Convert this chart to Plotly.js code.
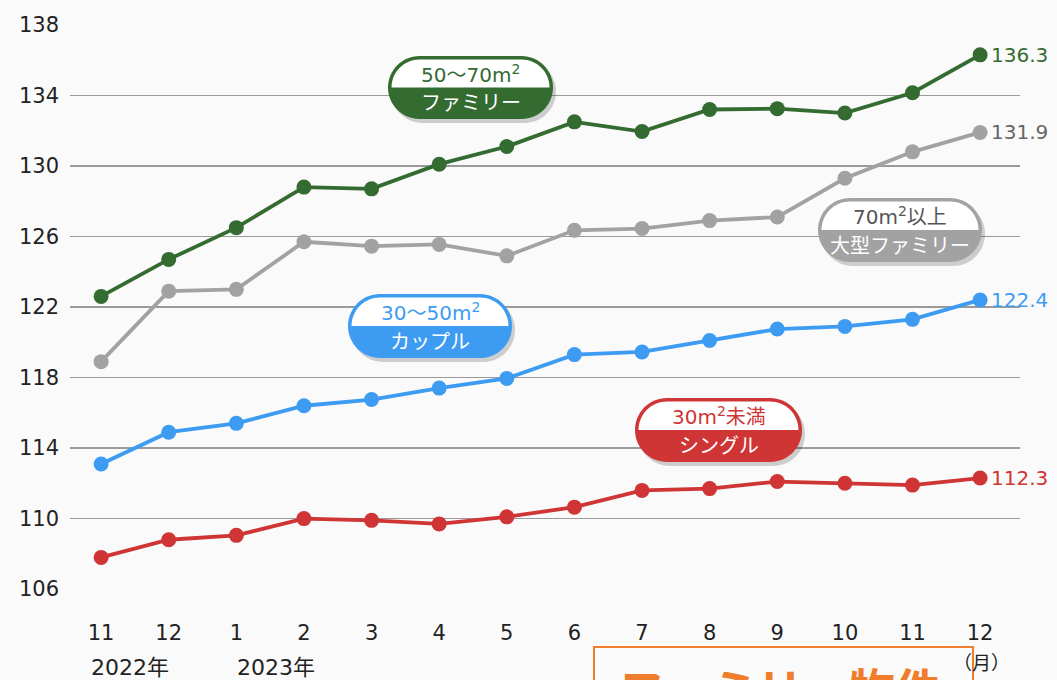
<!DOCTYPE html>
<html><head><meta charset="utf-8">
<script src="https://cdn.plot.ly/plotly-3.0.1.min.js"></script>
<style>html,body{margin:0;padding:0;background:#fafafa;}#chart{width:1057px;height:680px;}</style>
</head><body><div id="chart"></div>
<script>
// ---- data ----
const months = ["11","12","1","2","3","4","5","6","7","8","9","10","11","12"];
const family50to70 = [122.6,124.7,126.5,128.8,128.7,130.1,131.1,132.5,131.95,133.2,133.25,133.0,134.15,136.3];
const large70plus  = [118.9,122.9,123.0,125.7,125.45,125.55,124.9,126.35,126.45,126.9,127.1,129.3,130.8,131.9];
const couple30to50 = [113.1,114.9,115.4,116.4,116.75,117.4,117.95,119.3,119.45,120.1,120.75,120.9,121.3,122.4];
const single30less = [107.8,108.8,109.05,110.0,109.9,109.7,110.1,110.65,111.6,111.7,112.1,112.0,111.9,112.3];
const yTicks = [106,110,114,118,122,126,130,134,138];

// ---- layout geometry (pixels) ----
const L=70, R=1020, T=24, B=590, W=1057, H=680;
const px = x => (x-L)/(R-L);
const py = y => (B-y)/(B-T);
const FONT = "DejaVu Sans, Noto Sans CJK JP, sans-serif";
const JFONT = "Noto Sans CJK JP, sans-serif";

const C = {green:"#336b31", gray:"#a2a2a2", grayText:"#666666", blue:"#3d9cf2", red:"#cf3535", orange:"#f07d2c"};
const idx = months.map((_,i)=>i);

function trace(vals,color){
  return {x:idx,y:vals,mode:"lines+markers",type:"scatter",
    line:{color:color,width:3.8},marker:{color:color,size:15},hoverinfo:"skip",showlegend:false};
}
const data = [trace(large70plus,C.gray),trace(family50to70,C.green),trace(couple30to50,C.blue),trace(single30less,C.red)];

// end-point labels
const endSeries = [[family50to70,C.green],[large70plus,C.grayText],[couple30to50,C.blue],[single30less,C.red]];
const annotations = endSeries.map(([v,c])=>({x:idx[idx.length-1],y:v[v.length-1],xref:"x",yref:"y",
  text:v[v.length-1].toFixed(1),showarrow:false,xanchor:"left",xshift:9,
  font:{family:FONT,size:20,color:c}}));

const k=0.5523;
function P(x,y){return px(x).toFixed(5)+","+py(y).toFixed(5);}
function pillPath(x0,y0,x1,y1){
  const r=(y1-y0)/2, cy=(y0+y1)/2;
  return "M"+P(x0+r,y0)+" L"+P(x1-r,y0)+" C"+P(x1-r+k*r,y0)+" "+P(x1,cy-k*r)+" "+P(x1,cy)+
    " C"+P(x1,cy+k*r)+" "+P(x1-r+k*r,y1)+" "+P(x1-r,y1)+" L"+P(x0+r,y1)+
    " C"+P(x0+r-k*r,y1)+" "+P(x0,cy+k*r)+" "+P(x0,cy)+" C"+P(x0,cy-k*r)+" "+P(x0+r-k*r,y0)+" "+P(x0+r,y0)+" Z";
}
function topHalfPath(x0,y0,x1,y1){
  const r=(y1-y0)/2, cy=(y0+y1)/2;
  return "M"+P(x0,cy)+" C"+P(x0,cy-k*r)+" "+P(x0+r-k*r,y0)+" "+P(x0+r,y0)+" L"+P(x1-r,y0)+
    " C"+P(x1-r+k*r,y0)+" "+P(x1,cy-k*r)+" "+P(x1,cy)+" Z";
}
const shapes=[];
const pills=[
  {x0:388,y0:56,x1:553,y1:119,color:C.green,tcolor:C.green,top:"50〜70m<sup>2</sup>",bot:"ファミリー"},
  {x0:818,y0:198,x1:982,y1:262,color:C.gray,tcolor:"#555555",top:"70m<sup>2</sup>以上",bot:"大型ファミリー"},
  {x0:348,y0:294,x1:512,y1:358,color:C.blue,tcolor:C.blue,top:"30〜50m<sup>2</sup>",bot:"カップル"},
  {x0:635,y0:398,x1:802,y1:462,color:C.red,tcolor:C.red,top:"30m<sup>2</sup>未満",bot:"シングル"}
];
pills.forEach(p=>{
  shapes.push({type:"path",xref:"paper",yref:"paper",path:pillPath(p.x0+3,p.y0+4,p.x1+3,p.y1+4),fillcolor:"rgba(0,0,0,0.18)",line:{width:0},layer:"above"});
  shapes.push({type:"path",xref:"paper",yref:"paper",path:pillPath(p.x0,p.y0,p.x1,p.y1),fillcolor:p.color,line:{width:0},layer:"above"});
  shapes.push({type:"path",xref:"paper",yref:"paper",path:topHalfPath(p.x0+3.5,p.y0+3.5,p.x1-3.5,p.y1-3.5),fillcolor:"#ffffff",line:{width:0},layer:"above"});
  const cx=(p.x0+p.x1)/2, h=p.y1-p.y0;
  annotations.push({xref:"paper",yref:"paper",x:px(cx),y:py(p.y0+h*0.28),text:p.top,showarrow:false,
    xanchor:"center",yanchor:"middle",font:{family:FONT,size:20,color:p.tcolor}});
  annotations.push({xref:"paper",yref:"paper",x:px(cx),y:py(p.y0+h*0.73),text:p.bot,showarrow:false,
    xanchor:"center",yanchor:"middle",font:{family:JFONT,size:20,color:"#ffffff"}});
});

// bottom texts
annotations.push({xref:"paper",yref:"paper",x:px(89),y:py(667),text:"2022年",showarrow:false,xanchor:"left",yanchor:"middle",font:{family:FONT,size:22,color:"#222"}});
annotations.push({xref:"paper",yref:"paper",x:px(235),y:py(667),text:"2023年",showarrow:false,xanchor:"left",yanchor:"middle",font:{family:FONT,size:22,color:"#222"}});
annotations.push({xref:"paper",yref:"paper",x:px(981),y:py(661),text:"（月）",showarrow:false,xanchor:"center",yanchor:"middle",font:{family:JFONT,size:19,color:"#222"}});
shapes.push({type:"rect",xref:"paper",yref:"paper",x0:px(594),x1:px(973),y0:py(647),y1:py(720),line:{color:C.orange,width:2},fillcolor:"rgba(0,0,0,0)",layer:"above"});
annotations.push({xref:"paper",yref:"paper",x:px(780),y:py(652),text:"<b>ファミリー物件</b>",showarrow:false,xanchor:"center",yanchor:"top",font:{family:JFONT,size:46,color:C.orange}});

const layout={
  width:W,height:H,paper_bgcolor:"#fafafa",plot_bgcolor:"#fafafa",
  margin:{l:L,r:W-R,t:T,b:H-B,pad:0},
  xaxis:{range:[-0.46,13.59],tickvals:idx,ticktext:months,showgrid:false,zeroline:false,showline:false,
    ticks:"",ticklabelstandoff:28,tickfont:{family:FONT,size:21,color:"#222"},fixedrange:true},
  yaxis:{range:[105.95,138.05],tickvals:yTicks,ticktext:yTicks.map(String),showgrid:true,gridcolor:"#9a9a9a",gridwidth:1.3,
    zeroline:false,showline:false,ticks:"",ticklabelstandoff:10,tickfont:{family:FONT,size:21,color:"#222"},fixedrange:true},
  shapes:shapes,annotations:annotations,showlegend:false
};
Plotly.newPlot("chart",data,layout,{staticPlot:true});
</script></body></html>
